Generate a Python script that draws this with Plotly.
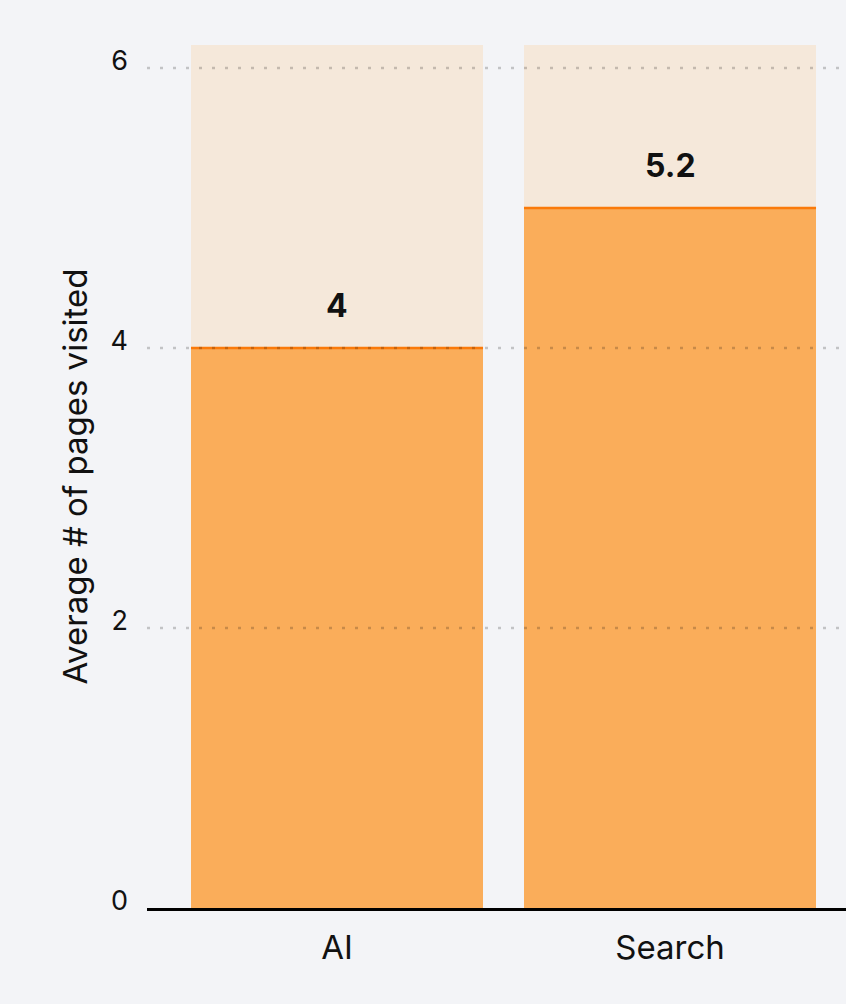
import plotly.graph_objects as go

categories = ["AI", "Search"]
bar_values = [4.0, 5.0]
value_labels = ["4", "5.2"]
scale_max = 6.164
y_ticks = [0, 2, 4, 6]
y_tick_labels = ["0", "2", "4", "6"]
y_title = "Average # of pages visited"

BG = "#F3F4F7"
BAR_BG = "#F5E8DA"
BAR_FILL = "#FAAD5A"
BAR_TOP = "#FA7A0A"
BAR_W = 0.877

x_pos = list(range(len(categories)))

fig = go.Figure()
fig.add_trace(go.Bar(
    x=x_pos, y=[scale_max] * len(categories), width=BAR_W,
    marker=dict(color=BAR_BG, line=dict(width=0)), hoverinfo="skip", showlegend=False,
))
fig.add_trace(go.Bar(
    x=x_pos, y=bar_values, width=BAR_W,
    marker=dict(color=BAR_FILL, line=dict(width=0)), showlegend=False,
))

shapes = []
for i, v in zip(x_pos, bar_values):
    shapes.append(dict(type="line", xref="x", yref="y", x0=i - BAR_W / 2, x1=i + BAR_W / 2,
                       y0=v, y1=v, line=dict(color=BAR_TOP, width=2.5), layer="above"))
for t in y_ticks:
    if t == 0:
        continue
    shapes.append(dict(type="line", xref="paper", yref="y", x0=0, x1=1, y0=t, y1=t,
                       line=dict(color="rgba(0,0,0,0.2)", width=2.5, dash="3px,10px"), layer="above"))

annotations = []
for i, v, lab in zip(x_pos, bar_values, value_labels):
    annotations.append(dict(x=i, y=v, xref="x", yref="y", text=lab, showarrow=False,
                            yshift=42, font=dict(family="Inter", size=32, color="#111111", weight="bold")))

fig.update_layout(
    width=846, height=1004,
    margin=dict(l=147, r=0, t=45, b=96),
    paper_bgcolor=BG, plot_bgcolor=BG,
    barmode="overlay", bargap=0,
    shapes=shapes, annotations=annotations,
    font=dict(family="Inter", color="#111111"),
)
fig.update_xaxes(
    tickmode="array", tickvals=x_pos, ticktext=categories,
    range=[-0.5706, 1.5285], showgrid=False, zeroline=False,
    showline=True, linecolor="#000000", linewidth=3,
    ticks="", ticklabelstandoff=8,
    tickfont=dict(family="Inter", size=33, color="#111111"),
    fixedrange=True,
)
fig.update_yaxes(
    tickmode="array", tickvals=y_ticks, ticktext=y_tick_labels,
    range=[0, scale_max], showgrid=False, zeroline=False, showline=False,
    ticks="", ticklabelstandoff=18, ticklabelshift=-7,
    tickfont=dict(family="Inter", size=27, color="#111111"),
    title=dict(text=y_title, standoff=12, font=dict(family="Inter", size=33, color="#111111")),
    fixedrange=True,
)

fig.write_html(
    "out.html",
    config={"displayModeBar": False},
    post_script="document.body.style.margin='0';document.body.style.background='#F3F4F7';",
)
